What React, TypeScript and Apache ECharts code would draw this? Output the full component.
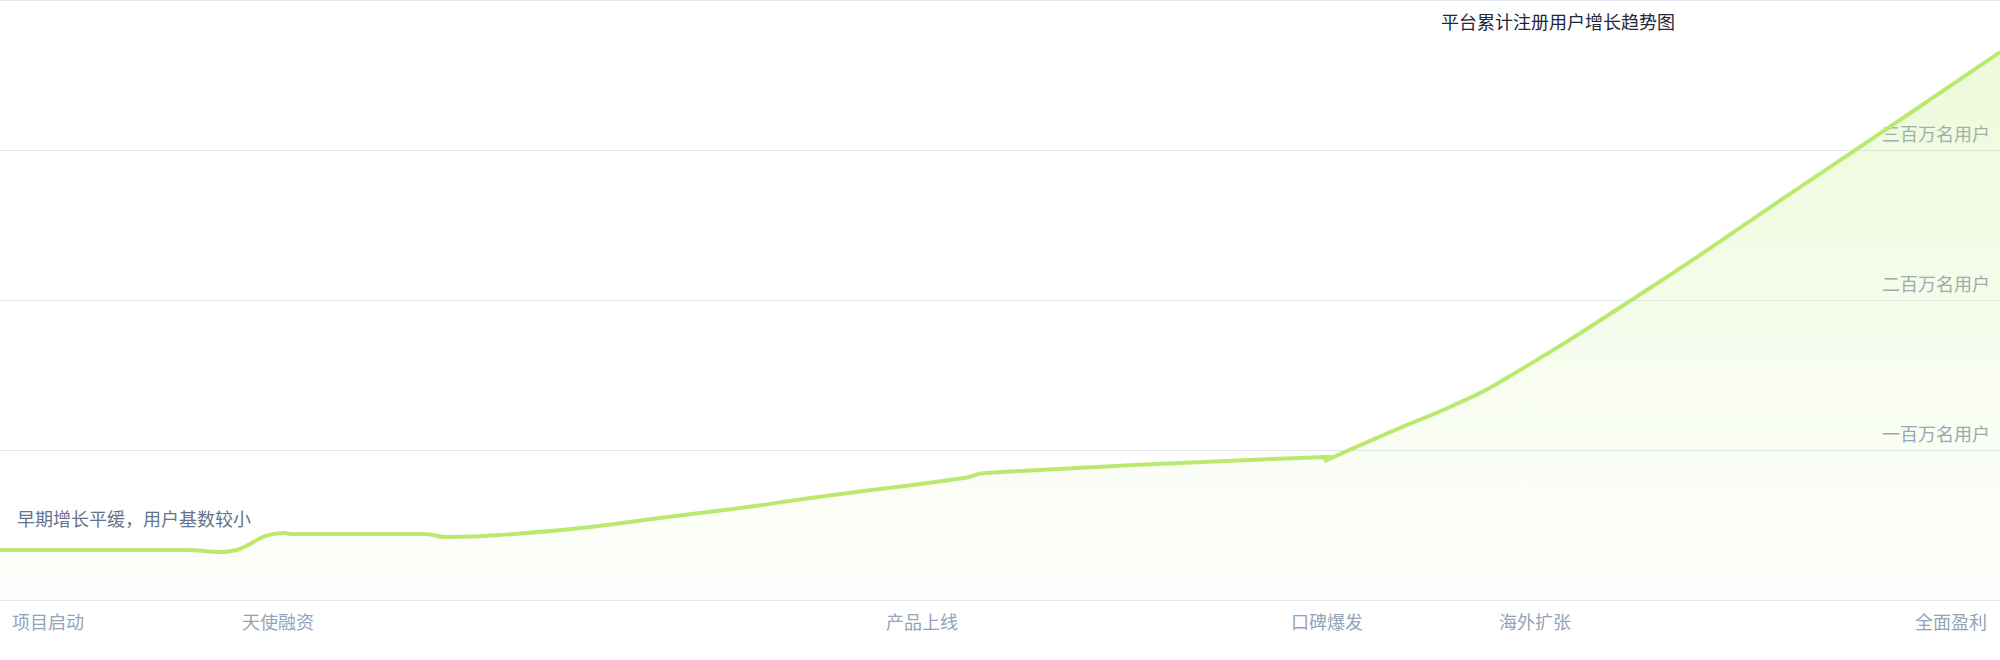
import * as echarts from "echarts"
import { useEffect, useRef } from "react"

// timeline position (0-100) and cumulative users (million)
const xValues = [0, 9.35, 11, 14.25, 14.5, 21.15, 22.35, 25, 35, 41.65, 48.2, 49.25, 66.6, 66.2, 70, 72.5, 75, 82.5, 90, 95, 100]
const userValues = [0.333, 0.333, 0.32, 0.447, 0.44, 0.44, 0.42, 0.433, 0.58, 0.7, 0.813, 0.847, 0.955, 0.925, 1.147, 1.287, 1.453, 2.08, 2.753, 3.2, 3.653]

const milestoneAt = [2.4, 13.9, 46.1, 66.35, 76.75, 97.55]
const milestoneLabels = ["项目启动", "天使融资", "产品上线", "口碑爆发", "海外扩张", "全面盈利"]
const yTickLabels = ["", "一百万名用户", "二百万名用户", "三百万名用户", ""]

const titleText = "平台累计注册用户增长趋势图"
const noteText = "早期增长平缓，用户基数较小"

const FONT = '"Noto Sans CJK SC", sans-serif'
const LINE = "#bbe96f"

export default function App() {
  const ref = useRef<HTMLDivElement>(null)

  useEffect(() => {
    if (!ref.current) return
    const chart = echarts.init(ref.current, null, { renderer: "svg" })
    chart.setOption({
      animation: false,
      backgroundColor: "#ffffff",
      textStyle: { fontFamily: FONT },
      title: {
        text: titleText,
        left: 1441,
        top: 12,
        padding: 0,
        textStyle: { fontFamily: FONT, fontSize: 18, fontWeight: "normal", color: "#1e293b" },
      },
      graphic: [
        {
          type: "text",
          left: 17,
          top: 509,
          style: { text: noteText, font: `18px ${FONT}`, fill: "#64748b" },
        },
      ],
      grid: { left: 0, right: 0, top: 0, bottom: 60 },
      xAxis: {
        type: "value",
        min: 0,
        max: 100,
        axisLine: { show: true, lineStyle: { color: "#e2e8f0" } },
        axisTick: { show: false },
        splitLine: { show: false },
        axisLabel: {
          customValues: milestoneAt,
          margin: 12,
          fontSize: 18,
          color: "#94a3b8",
          fontFamily: FONT,
          formatter: (v: number) => {
            const i = milestoneAt.findIndex((m) => Math.abs(m - v) < 1e-6)
            return i >= 0 ? milestoneLabels[i] : ""
          },
        },
      },
      yAxis: {
        type: "value",
        position: "right",
        min: 0,
        max: 4,
        interval: 1,
        axisLine: { show: false },
        axisTick: { show: false },
        splitLine: { lineStyle: { color: "#e2e8f0", width: 1 } },
        axisLabel: {
          inside: true,
          margin: 10,
          fontSize: 18,
          color: "#94a3b8",
          fontFamily: FONT,
          verticalAlign: "bottom",
          padding: [0, 0, 8, 0],
          showMinLabel: false,
          showMaxLabel: false,
          formatter: (v: number) => yTickLabels[Math.round(v)] ?? "",
        },
      },
      series: [
        {
          type: "line",
          data: xValues.map((x, i) => [x, userValues[i]]),
          smooth: true,
          symbol: "none",
          lineStyle: { width: 4, color: LINE },
          areaStyle: {
            color: new echarts.graphic.LinearGradient(0, 0, 0, 1, [
              { offset: 0, color: "rgba(187,233,111,0.36)" },
              { offset: 1, color: "rgba(187,233,111,0.02)" },
            ]),
          },
        },
      ],
    })
    return () => chart.dispose()
  }, [])

  return (
    <div
      ref={ref}
      style={{ position: "fixed", left: 0, top: 0, width: 2000, height: 660 }}
    />
  )
}
